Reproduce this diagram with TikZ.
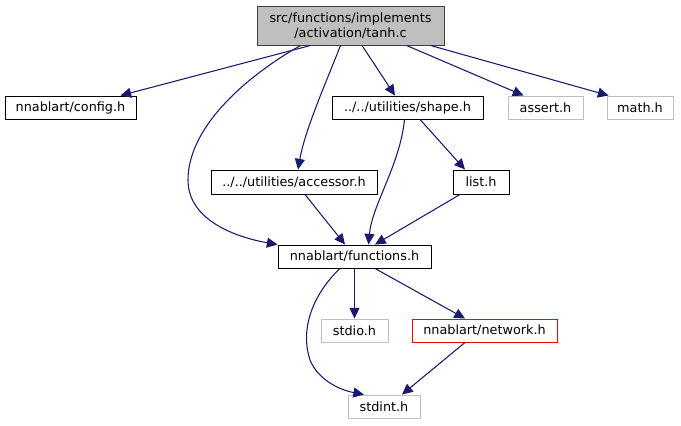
\documentclass[tikz,border=0pt]{standalone}
\usepackage{fontspec}
\setmainfont{DejaVu Sans}
\usetikzlibrary{arrows.meta,calc}
\definecolor{edgeblue}{RGB}{25,25,112}
\definecolor{sysgray}{RGB}{191,191,191}
\definecolor{rootborder}{RGB}{64,64,64}
\tikzset{
  box/.style={draw=black, line width=0.7pt, inner sep=0pt, minimum height=17.25pt,
    font=\fontsize{9.6pt}{11.5pt}\selectfont, text=black},
  sysbox/.style={box, draw=sysgray},
  redbox/.style={box, draw=red},
  rootbox/.style={box, draw=rootborder, fill=sysgray, align=center},
  dep/.style={draw=edgeblue, line width=0.8pt, -{Triangle[length=8pt,width=7.5pt]}, color=edgeblue},
}
\begin{document}
\begin{tikzpicture}[x=0.75pt,y=-0.75pt]
\useasboundingbox (0,0) rectangle (681,425);
\node[rootbox, minimum width=140.25pt, minimum height=29.25pt] (root) at (350.5,25.5) {src/functions/implements\\/activation/tanh.c};
\node[box, minimum width=98.25pt] (config) at (70.5,107.5) {nnablart/config.h};
\node[box, minimum width=113.25pt] (shape) at (407.5,107.5) {../../utilities/shape.h};
\node[sysbox, minimum width=56.25pt] (assert) at (545.5,107.5) {assert.h};
\node[sysbox, minimum width=49.5pt] (math) at (640,107.5) {math.h};
\node[box, minimum width=124.5pt, minimum height=18pt] (accessor) at (294,182) {../../utilities/accessor.h};
\node[box, minimum width=42pt, minimum height=18pt] (list) at (481,182) {list.h};
\node[box, minimum width=114.75pt] (functions) at (354.5,256.5) {nnablart/functions.h};
\node[sysbox, minimum width=50.25pt] (stdio) at (354.5,330.5) {stdio.h};
\node[redbox, minimum width=108.75pt] (network) at (484.5,330.5) {nnablart/network.h};
\node[sysbox, minimum width=54pt] (stdint) at (384,406.5) {stdint.h};

\draw[dep] ($(root.south)+(-40,0)$) -- ($(config.north)+(50,0)$);
\draw[dep] ($(root.south)+(-50,0)$) .. controls (240,80) and (188,130) .. (188,180)
  .. controls (188,222) and (240,238) .. (functions.north west);
\draw[dep] ($(root.south)+(-10,0)$) .. controls (325,85) and (305,130) .. ($(accessor.north)+(4,0)$);
\draw[dep] ($(root.south)+(11.5,0)$) -- ($(shape.north)+(-12.5,0)$);
\draw[dep] ($(root.south)+(56,0)$) -- ($(assert.north)+(-22,0)$);
\draw[dep] ($(root.south)+(80,0)$) -- ($(math.north west)+(2,0)$);
\draw[dep] ($(shape.south)+(-3,0)$) .. controls (400,165) and (372,205) .. ($(functions.north)+(14,0)$);
\draw[dep] ($(shape.south)+(12.5,0)$) -- ($(list.north)+(-16,0)$);
\draw[dep] ($(accessor.south)+(11,0)$) -- ($(functions.north)+(-9.5,0)$);
\draw[dep] ($(list.south)+(-21,0)$) -- ($(functions.north)+(20.5,0)$);
\draw[dep] (functions.south) -- (stdio.north);
\draw[dep] ($(functions.south)+(20.5,0)$) -- ($(network.north)+(-19.5,0)$);
\draw[dep] ($(functions.south)+(-14.5,0)$) .. controls (312,295) and (300,330) .. (310,360)
  .. controls (318,380) and (340,390) .. ($(stdint.north)+(-20,0)$);
\draw[dep] ($(network.south)+(-19.5,0)$) -- ($(stdint.north)+(18,0)$);
\end{tikzpicture}
\end{document}
